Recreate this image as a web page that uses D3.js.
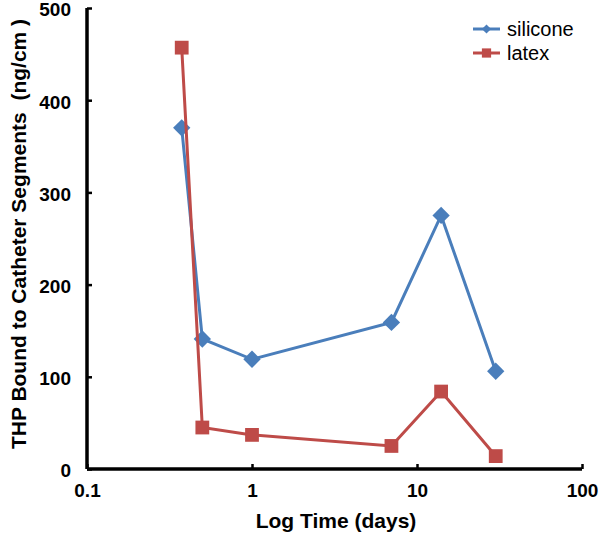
<!DOCTYPE html>
<html>
<head>
<meta charset="utf-8">
<script src="https://cdn.jsdelivr.net/npm/d3@7"></script>
<style>
  body { margin: 0; background: #fff; }
  text { font-family: Arial, "Liberation Sans", sans-serif; }
</style>
</head>
<body>
<svg id="chart" width="600" height="535"></svg>
<script>
const days = [0.375, 0.5, 1, 7, 14, 30];
const silicone = [370, 141, 119, 159, 275, 106];
const latex = [457, 45, 37, 25, 84, 14];
const xTicks = [0.1, 1, 10, 100];
const yTicks = [0, 100, 200, 300, 400, 500];

const series = [
    {name: "silicone", values: silicone, color: "#4A7EBB", shape: "diamond"},
    {name: "latex", values: latex, color: "#BE4B48", shape: "square"}
];

const svg = d3.select("#chart");
const x = d3.scaleLog().domain([0.1, 100]).range([87, 582]);
const y = d3.scaleLinear().domain([0, 500]).range([469, 8]);

// axes
const xAxis = svg.append("g")
    .attr("transform", `translate(0,${y(0)})`)
    .call(d3.axisBottom(x).tickValues(xTicks).tickSize(-5).tickPadding(15)
        .tickFormat(d => d3.format("~g")(d)));
const yAxis = svg.append("g")
    .attr("transform", `translate(${x(0.1)},0)`)
    .call(d3.axisLeft(y).tickValues(yTicks).tickSize(-5).tickPadding(14));

[xAxis, yAxis].forEach(a => {
    a.select(".domain").attr("stroke", "#000").attr("stroke-width", 3.5);
    a.selectAll(".tick line").attr("stroke", "#000").attr("stroke-width", 2.5);
    a.selectAll(".tick text")
        .attr("font-size", 19).attr("font-weight", "bold").attr("fill", "#000");
});
xAxis.select(".domain").attr("d", `M${x(0.1)},0H${x(100)}`);
yAxis.select(".domain").attr("d", `M0,${y(0)}V${y(500)}`);
yAxis.selectAll(".tick text").attr("x", -16).attr("dy", "0.42em");

const line = d3.line().x((d, i) => x(days[i])).y(d => y(d));
const symbolFor = (shape, big) => shape === "diamond"
    ? d3.symbol().type(d3.symbolSquare).size(big ? 150 : 42)
    : d3.symbol().type(d3.symbolSquare).size(big ? 190 : 85);
const rot = shape => shape === "diamond" ? " rotate(45)" : "";

series.forEach(s => {
    const g = svg.append("g").attr("class", "series " + s.name);
    g.append("path")
        .datum(s.values)
        .attr("d", line)
        .attr("fill", "none")
        .attr("stroke", s.color)
        .attr("stroke-width", 3);
    g.selectAll("path.marker")
        .data(s.values)
        .join("path")
        .attr("class", "marker")
        .attr("d", symbolFor(s.shape, true))
        .attr("transform", (d, i) => `translate(${x(days[i])},${y(d)})` + rot(s.shape))
        .attr("fill", s.color);
});

// legend
const legend = svg.append("g").attr("transform", "translate(473,29)");
series.forEach((s, i) => {
    const row = legend.append("g").attr("transform", `translate(0,${i * 24})`);
    row.append("line").attr("x1", 0).attr("x2", 27).attr("stroke", s.color).attr("stroke-width", 3);
    row.append("path")
        .attr("d", symbolFor(s.shape, false))
        .attr("transform", "translate(13.5,0)" + rot(s.shape))
        .attr("fill", s.color);
    row.append("text")
        .attr("x", 34).attr("y", 7)
        .attr("font-size", 20)
        .attr("font-family", "'Noto Sans', 'Open Sans', sans-serif")
        .attr("fill", "#000")
        .text(s.name);
});

// titles
svg.append("text")
    .attr("x", 336).attr("y", 528)
    .attr("text-anchor", "middle")
    .attr("font-size", 21).attr("font-weight", "bold")
    .text("Log Time (days)");

svg.append("text")
    .attr("transform", `translate(26,234) rotate(-90)`)
    .attr("text-anchor", "middle")
    .attr("font-size", 21).attr("font-weight", "bold")
    .attr("xml:space", "preserve")
    .style("white-space", "pre")
    .text("THP Bound to Catheter Segments  (ng/cm )");
</script>
</body>
</html>
